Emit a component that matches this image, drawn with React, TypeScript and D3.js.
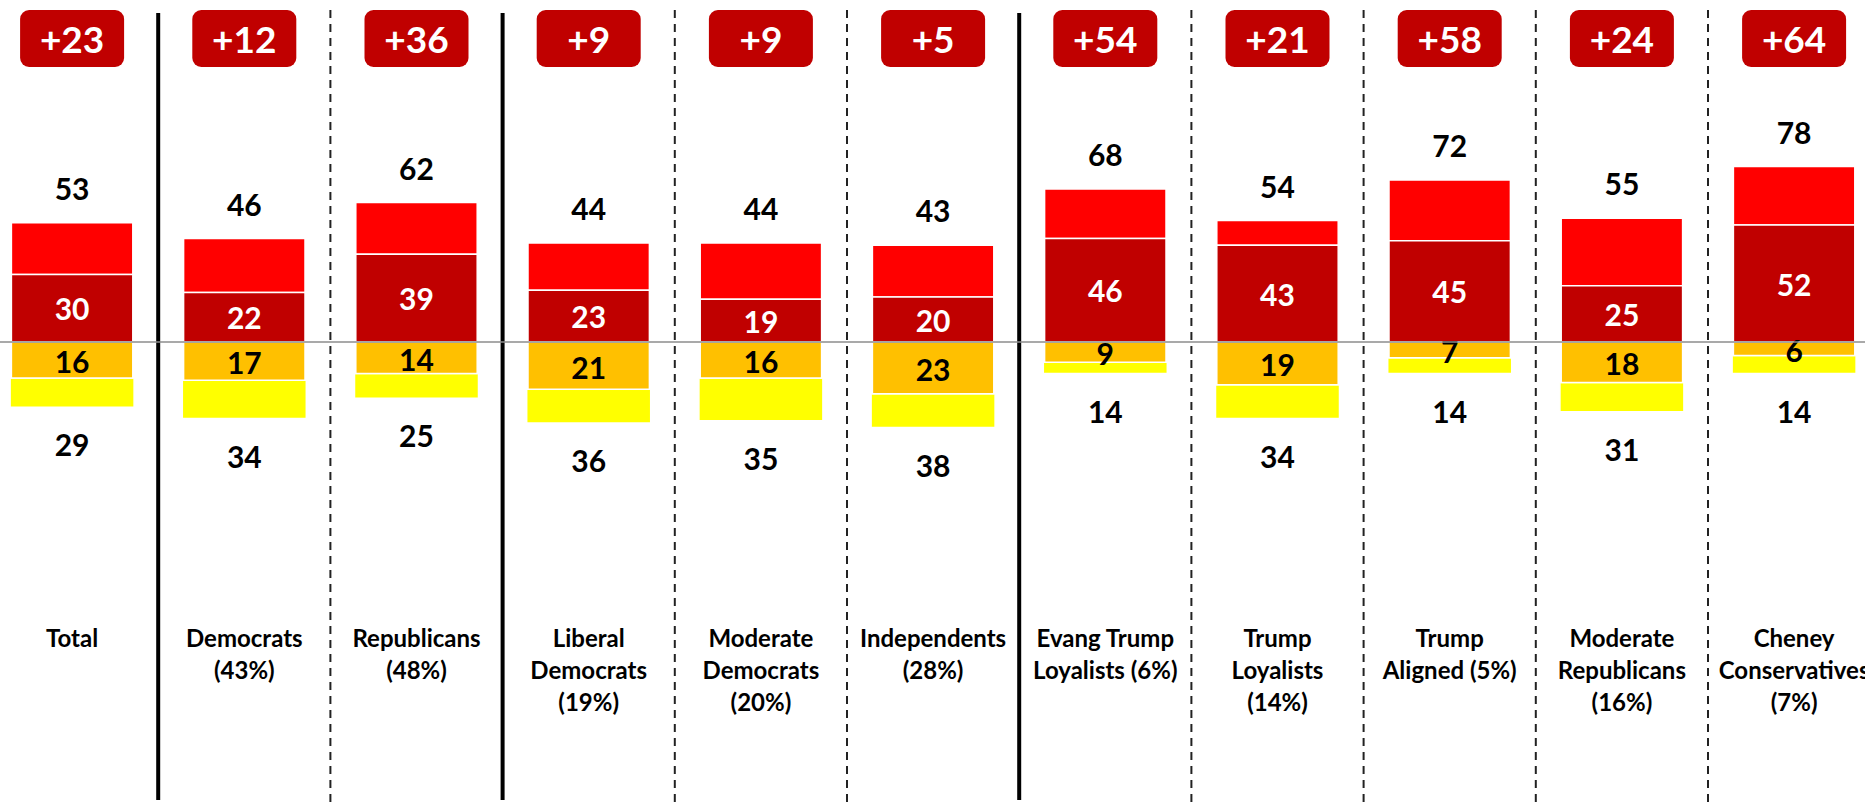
import { useEffect, useRef } from 'react';
import * as d3 from 'd3';

const categories = [
    'Total', 'Democrats', 'Republicans', 'Liberal Democrats', 'Moderate Democrats', 'Independents',
    'Evang Trump Loyalists', 'Trump Loyalists', 'Trump Aligned', 'Moderate Republicans', 'Cheney Conservatives'
];
const labelLines = [
    ['Total'],
    ['Democrats', '(43%)'],
    ['Republicans', '(48%)'],
    ['Liberal', 'Democrats', '(19%)'],
    ['Moderate', 'Democrats', '(20%)'],
    ['Independents', '(28%)'],
    ['Evang Trump', 'Loyalists (6%)'],
    ['Trump', 'Loyalists', '(14%)'],
    ['Trump', 'Aligned (5%)'],
    ['Moderate', 'Republicans', '(16%)'],
    ['Cheney', 'Conservatives', '(7%)']
];
const favTotal = [53, 46, 62, 44, 44, 43, 68, 54, 72, 55, 78];
const strongFav = [30, 22, 39, 23, 19, 20, 46, 43, 45, 25, 52];
const strongUnfav = [16, 17, 14, 21, 16, 23, 9, 19, 7, 18, 6];
const unfavTotal = [29, 34, 25, 36, 35, 38, 14, 34, 14, 31, 14];
const netLabels = ['+23', '+12', '+36', '+9', '+9', '+5', '+54', '+21', '+58', '+24', '+64'];
// divider after each column except the last
const dividers = ['solid', 'dashed', 'solid', 'dashed', 'dashed', 'solid', 'dashed', 'dashed', 'dashed', 'dashed'];

const W = 1865;
const H = 804;
const FONT = 'Lato, "Open Sans", sans-serif';

export default function App() {
    const svgRef = useRef<SVGSVGElement>(null);

    useEffect(() => {
        if (!svgRef.current) return;
        const svg = d3.select(svgRef.current);
        svg.selectAll('*').remove();

        const x = d3.scaleBand<string>()
            .domain(categories)
            .range([-14, -14 + 172.2 * categories.length])
            .padding(0);
        const y = d3.scaleLinear().domain([-100, 100]).range([342 + 225, 342 - 225]);
        const bw = x.bandwidth() * 0.705;
        const cx = (c: string) => x(c)! + x.bandwidth() / 2;

        // column dividers
        dividers.forEach((kind, i) => {
            const xx = x(categories[i + 1])!;
            svg.append('line')
                .attr('x1', xx).attr('x2', xx)
                .attr('y1', kind === 'solid' ? 13 : 10)
                .attr('y2', kind === 'solid' ? 800 : H)
                .attr('stroke', kind === 'solid' ? '#000' : '#222')
                .attr('stroke-width', kind === 'solid' ? 4 : 2)
                .attr('stroke-dasharray', kind === 'solid' ? null : '8,6');
        });

        const g = svg.selectAll('.col')
            .data(categories)
            .join('g')
            .attr('class', 'col');

        // favourable: strong (dark red) + rest (bright red)
        g.append('rect')
            .attr('x', c => cx(c) - bw / 2)
            .attr('width', bw)
            .attr('y', (c, i) => y(favTotal[i]))
            .attr('height', (c, i) => y(strongFav[i]) - y(favTotal[i]))
            .attr('fill', '#FF0000')
            .attr('stroke', '#fff').attr('stroke-width', 1.5);
        g.append('rect')
            .attr('x', c => cx(c) - bw / 2)
            .attr('width', bw)
            .attr('y', (c, i) => y(strongFav[i]))
            .attr('height', (c, i) => y(0) - y(strongFav[i]))
            .attr('fill', '#C00000')
            .attr('stroke', '#fff').attr('stroke-width', 1.5);

        // unfavourable: strong (orange) + rest (yellow)
        g.append('rect')
            .attr('x', c => cx(c) - bw / 2 - 1.3)
            .attr('width', bw + 2.6)
            .attr('y', (c, i) => y(-strongUnfav[i]))
            .attr('height', (c, i) => y(-unfavTotal[i]) - y(-strongUnfav[i]))
            .attr('fill', '#FFFF00')
            .attr('stroke', '#fff').attr('stroke-width', 1.5);
        g.append('rect')
            .attr('x', c => cx(c) - bw / 2)
            .attr('width', bw)
            .attr('y', y(0))
            .attr('height', (c, i) => y(-strongUnfav[i]) - y(0))
            .attr('fill', '#FFC000')
            .attr('stroke', '#fff').attr('stroke-width', 1.5);

        // zero line
        svg.append('line')
            .attr('x1', 0).attr('x2', W)
            .attr('y1', y(0)).attr('y2', y(0))
            .attr('stroke', '#8c8c8c')
            .attr('stroke-width', 1.5);

        const txt = (sel: any) => sel
            .attr('text-anchor', 'middle')
            .attr('font-family', FONT)
            .attr('font-weight', 700);

        // value labels
        g.append('text').call(txt)
            .attr('x', c => cx(c))
            .attr('y', (c, i) => y(favTotal[i]) - 23)
            .attr('font-size', 30)
            .attr('fill', '#000')
            .text((c, i) => favTotal[i]);
        g.append('text').call(txt)
            .attr('x', c => cx(c))
            .attr('y', (c, i) => (y(strongFav[i]) + y(0)) / 2 + 12)
            .attr('font-size', 30)
            .attr('fill', '#fff')
            .text((c, i) => strongFav[i]);
        g.append('text').call(txt)
            .attr('x', c => cx(c))
            .attr('y', (c, i) => (y(-strongUnfav[i]) + y(0)) / 2 + 13)
            .attr('font-size', 30)
            .attr('fill', '#000')
            .text((c, i) => strongUnfav[i]);
        g.append('text').call(txt)
            .attr('x', c => cx(c))
            .attr('y', (c, i) => y(-unfavTotal[i]) + 49)
            .attr('font-size', 30)
            .attr('fill', '#000')
            .text((c, i) => unfavTotal[i]);

        // net badges
        g.append('rect')
            .attr('x', c => cx(c) - 52)
            .attr('y', 10)
            .attr('width', 104)
            .attr('height', 57)
            .attr('rx', 9)
            .attr('fill', '#C00000');
        g.append('text').call(txt)
            .attr('x', c => cx(c))
            .attr('y', 53)
            .attr('font-size', 37)
            .attr('fill', '#fff')
            .text((c, i) => netLabels[i]);

        // category labels
        g.each(function (c, i) {
            const t = d3.select(this).append('text').call(txt)
                .attr('font-size', 24)
                .attr('fill', '#000');
            labelLines[i].forEach((line, k) => {
                t.append('tspan')
                    .attr('x', cx(c))
                    .attr('y', 647 + k * 32)
                    .text(line);
            });
        });
    }, []);

    return (
        <svg
            ref={svgRef}
            width={W}
            height={H}
            style={{ position: 'absolute', left: 0, top: 0, background: '#fff' }}
        />
    );
}
